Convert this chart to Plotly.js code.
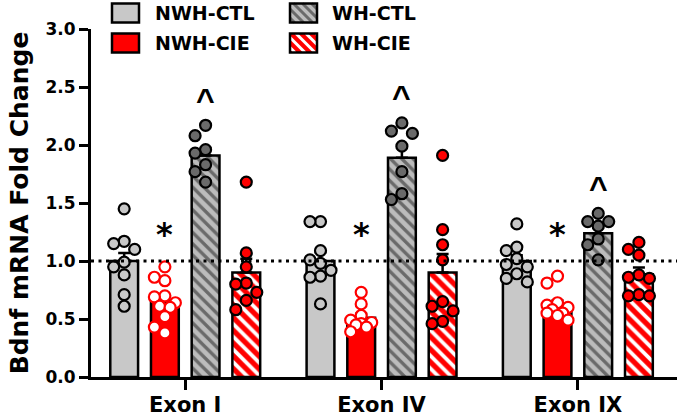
<!DOCTYPE html>
<html>
<head>
<meta charset="utf-8">
<script src="https://cdn.plot.ly/plotly-3.0.1.min.js"></script>
<style>
  html, body { margin: 0; padding: 0; background: #fff; }
  #chart { width: 680px; height: 417px; }
</style>
</head>
<body>
<div id="chart"></div>
<script>
// ---- data -------------------------------------------------------------
const exons = ['Exon I', 'Exon IV', 'Exon IX'];
const groupNames = ['NWH-CTL', 'NWH-CIE', 'WH-CTL', 'WH-CIE'];

// group means (fold change) and SEM, one value per exon
const meanNwhCtl = [1.00, 1.00, 1.00];
const semNwhCtl  = [0.07, 0.075, 0.05];
const meanNwhCie = [0.65, 0.51, 0.62];
const semNwhCie  = [0.055, 0.035, 0.04];
const meanWhCtl  = [1.91, 1.89, 1.24];
const semWhCtl   = [0.065, 0.09, 0.05];
const meanWhCie  = [0.90, 0.90, 0.885];
const semWhCie   = [0.12, 0.16, 0.06];

// individual animals, one list per exon
const ptsNwhCtl = [
  [1.45, 1.17, 1.15, 1.10, 0.99, 0.95, 0.88, 0.71, 0.61],
  [1.34, 1.34, 1.09, 1.01, 0.98, 0.92, 0.87, 0.86, 0.63],
  [1.32, 1.12, 1.09, 1.02, 0.97, 0.95, 0.89, 0.85, 0.82]
];
const ptsNwhCie = [
  [0.95, 0.86, 0.83, 0.70, 0.69, 0.64, 0.61, 0.60, 0.52, 0.43, 0.38],
  [0.73, 0.63, 0.53, 0.49, 0.47, 0.46, 0.45, 0.43, 0.39],
  [0.87, 0.81, 0.64, 0.62, 0.60, 0.58, 0.55, 0.55, 0.53, 0.49]
];
const ptsWhCtl = [
  [2.17, 2.08, 1.96, 1.93, 1.83, 1.77, 1.68],
  [2.19, 2.12, 2.10, 1.99, 1.77, 1.58, 1.53],
  [1.41, 1.34, 1.34, 1.30, 1.19, 1.14, 1.01]
];
const ptsWhCie = [
  [1.68, 1.07, 0.95, 0.81, 0.80, 0.73, 0.66, 0.58],
  [1.91, 1.27, 1.14, 1.01, 0.65, 0.61, 0.57, 0.48, 0.46],
  [1.16, 1.10, 1.05, 0.88, 0.86, 0.85, 0.71, 0.70, 0.70]
];

// significance marks
const sigNwhCie = ['*', '*', '*'];
const sigWhCtl  = ['^', '^', '^'];

// ---- geometry ---------------------------------------------------------
const W = 680, H = 417;
const M = { l: 91, r: 3, t: 29, b: 40 };
const xRange = [-0.48, 2.505];
const yRange = [0, 3];
const plotW = W - M.l - M.r, plotH = H - M.t - M.b;
const pxPerX = plotW / (xRange[1] - xRange[0]);
const pxPerY = plotH / (yRange[1] - yRange[0]);

const slot = 40.7 / pxPerX;            // distance between neighbouring bars
const barW = 27.8 / pxPerX;            // bar body width (outline adds to it)
const slotOffset = [-1.5, -0.5, 0.5, 1.5].map(k => k * slot);

const BOLD = { family: 'DejaVu Sans', weight: 'bold', color: '#000' };

// simple column-style swarm: spread points sideways when they collide
function swarm(values, center) {
  const step = 10.5;                  // px
  const cands = [0, -1, 1, -0.5, 0.5];
  const placed = [];
  const xs = new Array(values.length);
  const order = values.map((v, i) => i).sort((a, b) => values[b] - values[a]);
  order.forEach(i => {
    const yPx = values[i] * pxPerY;
    let best = 0, bestD = -1;
    for (const c of cands) {
      const xPx = c * step;
      let minD = Infinity;
      placed.forEach(p => { minD = Math.min(minD, Math.hypot(p.x - xPx, p.y - yPx)); });
      if (minD >= 10.5) { best = c; bestD = Infinity; break; }
      if (minD > bestD) { bestD = minD; best = c; }
    }
    placed.push({ x: best * step, y: yPx });
    xs[i] = center + best * step / pxPerX;
  });
  return xs;
}

const groups = [
  { name: groupNames[0], mean: meanNwhCtl, sem: semNwhCtl, pts: ptsNwhCtl,
    fill: '#c8c8c8', pattern: null,
    dot: { color: '#c8c8c8', line: '#000000' } },
  { name: groupNames[1], mean: meanNwhCie, sem: semNwhCie, pts: ptsNwhCie,
    fill: '#ff0000', pattern: null,
    dot: { color: '#ffffff', line: '#ff0000' } },
  { name: groupNames[2], mean: meanWhCtl, sem: semWhCtl, pts: ptsWhCtl,
    fill: '#bcbcbc', pattern: { fg: '#6a6a6a', size: 8, solidity: 0.42 },
    dot: { color: '#6a6a6a', line: '#000000' } },
  { name: groupNames[3], mean: meanWhCie, sem: semWhCie, pts: ptsWhCie,
    fill: '#ff0000', pattern: { fg: '#ffffff', size: 9, solidity: 0.42 },
    dot: { color: '#ff0000', line: '#000000' } }
];

const traces = [];
const xIdx = exons.map((_, i) => i);

groups.forEach((g, gi) => {
  const marker = { color: g.fill, line: { color: '#000', width: 2.5 } };
  if (g.pattern) {
    marker.pattern = { shape: '\\', fgcolor: g.pattern.fg, bgcolor: g.fill,
                       size: g.pattern.size, solidity: g.pattern.solidity,
                       fillmode: 'replace' };
  }
  traces.push({
    type: 'bar', name: g.name, x: xIdx, y: g.mean,
    width: barW, offset: slotOffset[gi] - barW / 2,
    marker: marker,
    error_y: { type: 'data', symmetric: false, array: g.sem,
               arrayminus: g.mean.map(() => 0),
               color: '#000', thickness: 2.5, width: 6 },
    showlegend: false, hoverinfo: 'skip'
  });
});

groups.forEach((g, gi) => {
  const xs = [], ys = [];
  g.pts.forEach((vals, ei) => {
    const sx = swarm(vals, ei + slotOffset[gi]);
    vals.forEach((v, k) => { xs.push(sx[k]); ys.push(v); });
  });
  traces.push({
    type: 'scatter', mode: 'markers', name: g.name, x: xs, y: ys,
    marker: { size: 11, color: g.dot.color, line: { color: g.dot.line, width: 2.2 } },
    showlegend: false, hoverinfo: 'skip'
  });
});

// ---- legend drawn with shapes + text ---------------------------------
const px2x = px => (px - M.l) / plotW;
const px2y = py => (H - M.b - py) / plotH;

const shapes = [
  // reference line at fold change = 1
  { type: 'line', xref: 'paper', yref: 'y', x0: 0, x1: 1, y0: 1, y1: 1,
    line: { color: '#000', width: 3, dash: '3px,4.5px' }, layer: 'above' }
];

const legendItems = [
  { g: groups[0], bx: 112, tx: 153, cy: 13 },
  { g: groups[1], bx: 112, tx: 153, cy: 43 },
  { g: groups[2], bx: 290, tx: 330, cy: 13 },
  { g: groups[3], bx: 290, tx: 330, cy: 43 }
];
const annotations = [];
legendItems.forEach(it => {
  const x0 = it.bx, x1 = it.bx + 27, y0 = it.cy - 9.5, y1 = it.cy + 9.5;
  shapes.push({ type: 'rect', xref: 'paper', yref: 'paper',
    x0: px2x(x0), x1: px2x(x1), y0: px2y(y1), y1: px2y(y0),
    fillcolor: it.g.fill, line: { width: 0 }, layer: 'above' });
  if (it.g.pattern) {
    const period = it.g.pattern.size + 1;
    for (let c = x0 - y1 + period / 2; c < x1 - y0; c += period) {
      const ya = Math.max(y0, x0 - c), yb = Math.min(y1, x1 - c);
      if (yb - ya < 0.5) continue;
      shapes.push({ type: 'line', xref: 'paper', yref: 'paper',
        x0: px2x(ya + c), y0: px2y(ya), x1: px2x(yb + c), y1: px2y(yb),
        line: { color: it.g.pattern.fg, width: 3 }, layer: 'above' });
    }
  }
  shapes.push({ type: 'rect', xref: 'paper', yref: 'paper',
    x0: px2x(x0), x1: px2x(x1), y0: px2y(y1), y1: px2y(y0),
    fillcolor: 'rgba(0,0,0,0)', line: { color: '#000', width: 2.5 }, layer: 'above' });
  annotations.push({ xref: 'paper', yref: 'paper', x: px2x(it.tx), y: px2y(it.cy),
    xanchor: 'left', yanchor: 'middle', showarrow: false, text: it.g.name,
    font: Object.assign({ size: 19 }, BOLD) });
});

// significance marks above the bars
sigNwhCie.forEach((s, ei) => {
  annotations.push({ xref: 'x', yref: 'y', x: ei + slotOffset[1], y: 1.23,
    text: s, showarrow: false, xanchor: 'center', yanchor: 'middle',
    font: Object.assign({ size: 32 }, BOLD) });
});
sigWhCtl.forEach((s, ei) => {
  const top = Math.max(...ptsWhCtl[ei]);
  annotations.push({ xref: 'x', yref: 'y', x: ei + slotOffset[2], y: top + 0.22,
    text: s, showarrow: false, xanchor: 'center', yanchor: 'middle',
    font: { family: 'Liberation Sans', weight: 'bold', color: '#000', size: 32 } });
});

const layout = {
  width: W, height: H,
  margin: M,
  paper_bgcolor: '#fff', plot_bgcolor: '#fff',
  barmode: 'overlay',
  showlegend: false,
  xaxis: {
    type: 'linear', range: xRange, tickvals: xIdx, ticktext: exons,
    showgrid: false, zeroline: false, showline: true, linecolor: '#000', linewidth: 3,
    ticks: 'outside', ticklen: 10, tickwidth: 3, tickcolor: '#000',
    ticklabelstandoff: -3,
    tickfont: Object.assign({ size: 21 }, BOLD)
  },
  yaxis: {
    range: yRange, tickvals: [0, 0.5, 1, 1.5, 2, 2.5, 3], tickformat: '.1f',
    showgrid: false, zeroline: false, showline: true, linecolor: '#000', linewidth: 3,
    ticks: 'outside', ticklen: 9, tickwidth: 3, tickcolor: '#000',
    tickfont: Object.assign({ size: 17 }, BOLD),
    title: { text: 'Bdnf mRNA Fold Change', font: Object.assign({ size: 25 }, BOLD), standoff: 10 }
  },
  shapes: shapes,
  annotations: annotations
};

Plotly.newPlot('chart', traces, layout, { displayModeBar: false, staticPlot: true });
</script>
</body>
</html>
